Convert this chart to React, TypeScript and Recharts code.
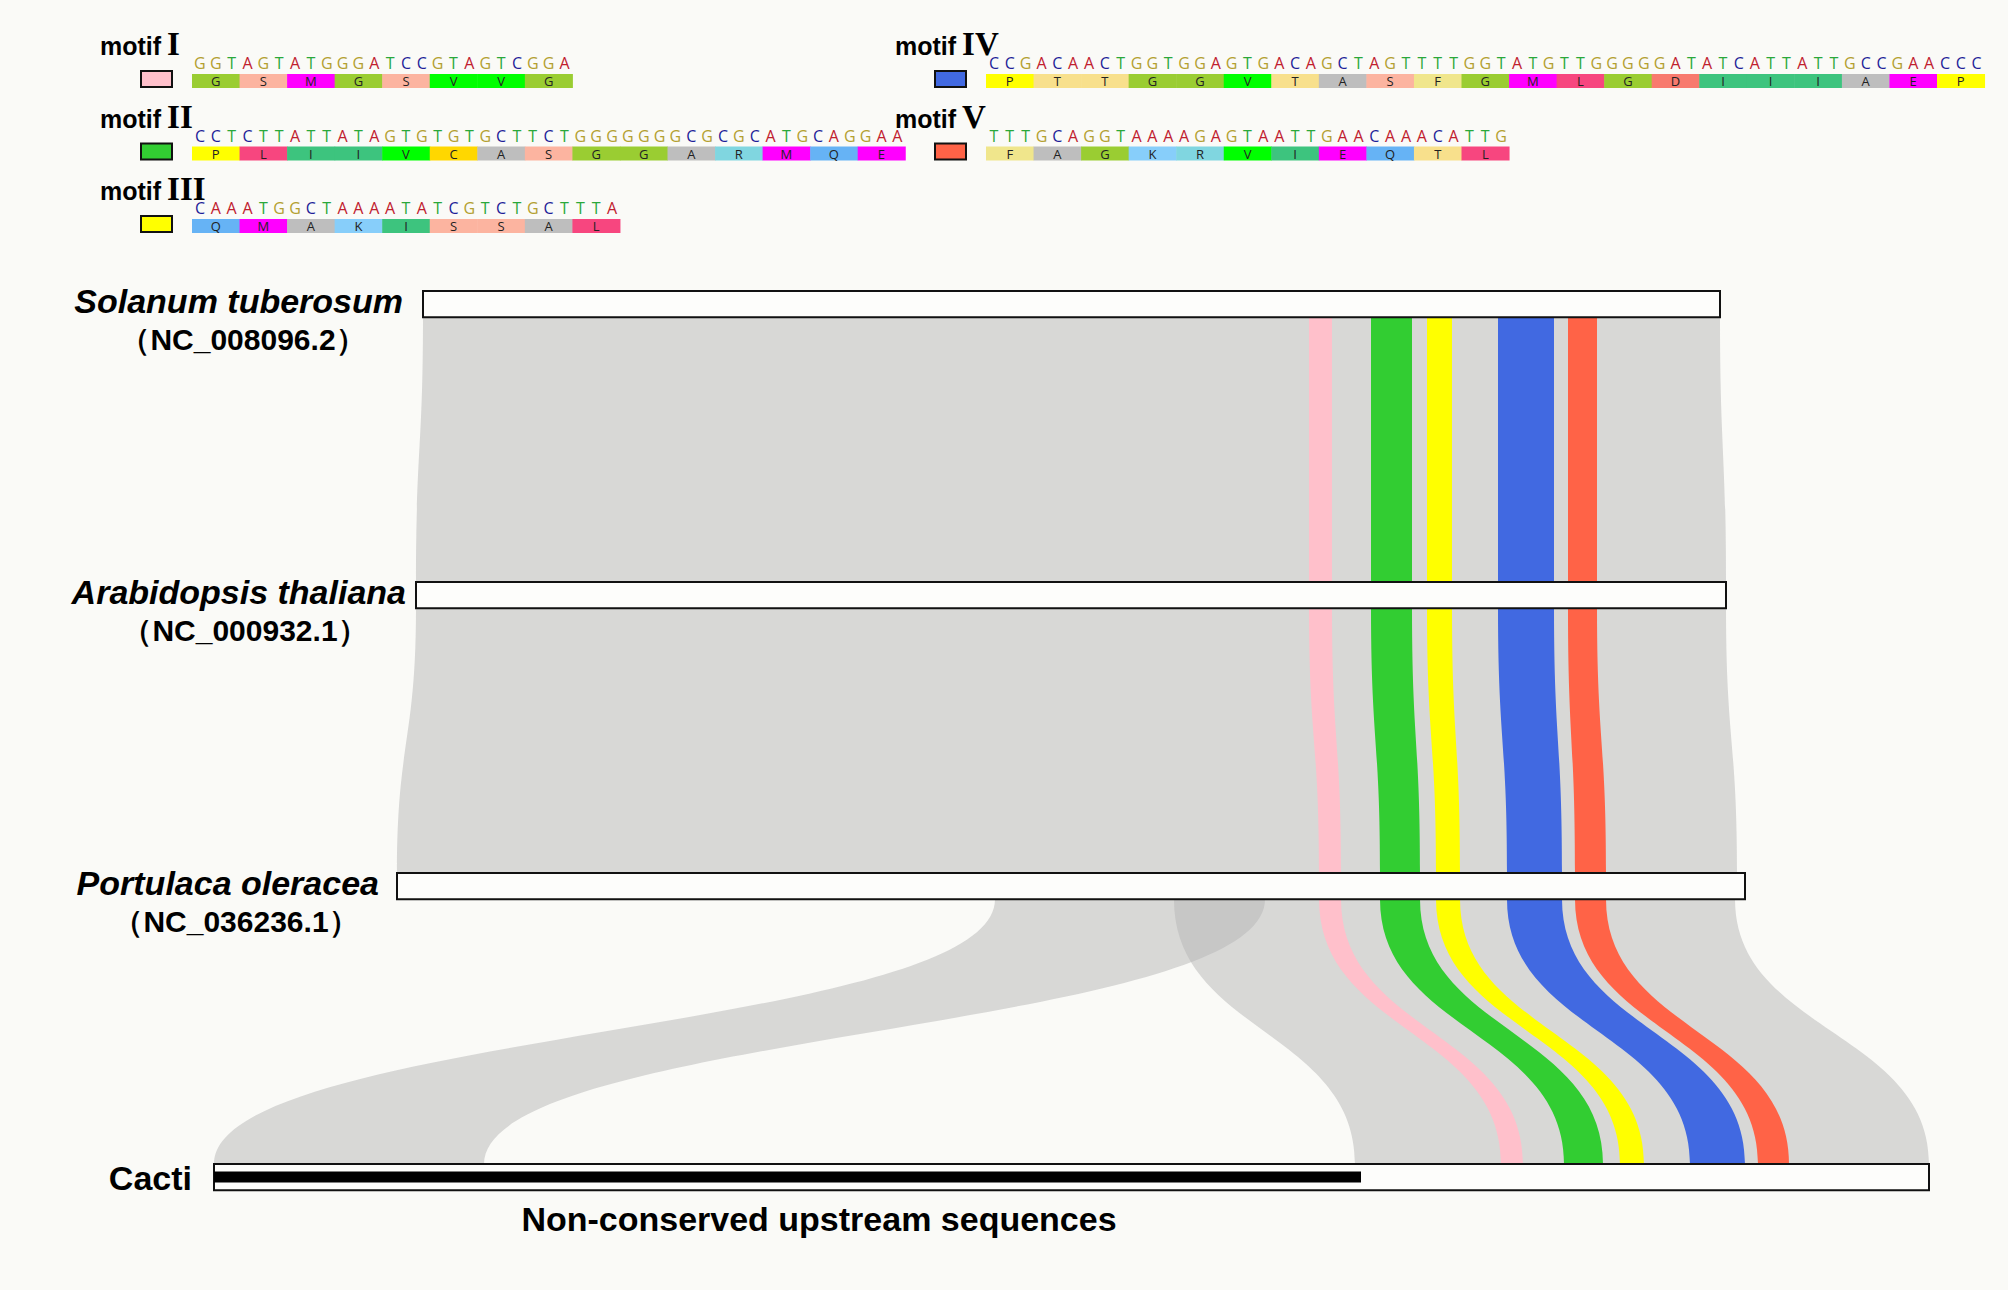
import { Area, ComposedChart, ReferenceArea, XAxis, YAxis } from "recharts";

const W = 2008;
const H = 1290;
const BG = "#fafaf7";
const SANS = "'Liberation Sans', Arial, sans-serif";

// ---- tracks (top to bottom) ----
const SPECIES = ["Solanum tuberosum", "Arabidopsis thaliana", "Portulaca oleracea", "Cacti"];
const ACCESSIONS = ["（NC_008096.2）", "（NC_000932.1）", "（NC_036236.1）", ""];
const TRACK_START = [423, 416, 397, 214];
const TRACK_END = [1720, 1726, 1745, 1929];
const TRACK_THICK = 0.09;
const NON_CONSERVED = [214, 1361];

// ---- motif blocks: span on each track ----
const MOTIF_COLORS = ["#ffc0cb", "#32cd32", "#ffff00", "#4169e1", "#ff6347"];
const MOTIF_SPANS = [
  [[1309, 1332], [1309, 1332], [1319, 1341], [1501, 1523]],
  [[1371, 1412], [1371, 1412], [1380, 1420], [1564, 1603]],
  [[1427, 1452], [1427, 1452], [1436, 1460], [1620, 1644]],
  [[1498, 1554], [1498, 1554], [1507, 1562], [1690, 1745]],
  [[1568, 1597], [1568, 1597], [1575, 1606], [1758, 1789]],
];

// ---- grey homology links: [fromTrack, fromSpan, toSpan] ----
const GREY_LINKS: [number, number[], number[]][] = [
  [0, [423, 1720], [416, 1726]],
  [1, [416, 1726], [397, 1737]],
  [2, [995, 1265], [214, 484]],
  [2, [1174, 1735], [1355, 1929]],
];

// ---- motif legend ----
const MOTIF_NUMERALS = ["I", "II", "III", "IV", "V"];
const MOTIF_NT = [
  "GGTAGTATGGGATCCGTAGTCGGA",
  "CCTCTTATTATAGTGTGTGCTTCTGGGGGGGCGCGCATGCAGGAA",
  "CAAATGGCTAAAATATCGTCTGCTTTA",
  "CCGACAACTGGTGGAGTGACAGCTAGTTTTGGTATGTTGGGGGATATCATTATTGCCGAACCC",
  "TTTGCAGGTAAAAGAGTAATTGAACAAACATTG",
];
const MOTIF_AA = ["GSMGSVVG", "PLIIVCASGGARMQE", "QMAKISSAL", "PTTGGVTASFGMLGDIIIAEP", "FAGKRVIEQTL"];

const NT_COLORS: Record<string, string> = { A: "#c0202e", C: "#1f1f99", G: "#b3a030", T: "#2aa83a" };
const AA_COLORS: Record<string, string> = {
  G: "#9acd32", S: "#fcb4a0", M: "#ff00ff", V: "#00ff00", P: "#ffff00", L: "#f7467f",
  I: "#3dc47e", C: "#ffd700", A: "#bebebe", R: "#80d6e0", Q: "#66b3f5", E: "#ff00ff",
  K: "#87cefa", T: "#f8e08c", F: "#f0e68c", D: "#f87a6e",
};

const NT_W = 15.85;
const trackPx = (i: number) => 291 + 291 * i;
// label placement next to each track
const NAME_GAP = [20, 10, 18];
const ACC_CENTER = [243, 245, 236];

function linkData(from: number, a: number[], b: number[]) {
  return [
    { y: from + TRACK_THICK, x: a },
    { y: from + 1, x: b },
  ];
}

function Overlay() {
  return (
    <svg width={W} height={H} style={{ position: "absolute", left: 0, top: 0, pointerEvents: "none" }}>
      {MOTIF_NUMERALS.map((num, m) => {
        const col = m < 3 ? 0 : 1;
        const row = m < 3 ? m : m - 3;
        const lx = col ? 895 : 100;
        const bx = col ? 935 : 141;
        const sx = col ? 986 : 192;
        const barTop = 74 + row * 72.5;
        return (
          <g key={num}>
            <text x={lx} y={barTop - 19} fontFamily={SANS} fontWeight="bold" fontSize={25} fill="#000">
              motif
              <tspan fontFamily="'Liberation Serif', 'Times New Roman', serif" fontSize={33} dx={6}>
                {num}
              </tspan>
            </text>
            <rect x={bx} y={barTop - 3} width={31} height={16} fill={MOTIF_COLORS[m]} stroke="#111" strokeWidth={2} />
            {MOTIF_NT[m].split("").map((c, i) => (
              <text
                key={i}
                x={sx + (i + 0.5) * NT_W}
                y={barTop - 5}
                textAnchor="middle"
                fontFamily="'Open Sans', sans-serif"
                fontSize={16}
                fill={NT_COLORS[c]}
              >
                {c}
              </text>
            ))}
            {MOTIF_AA[m].split("").map((a, i) => (
              <g key={i}>
                <rect x={sx + i * 3 * NT_W} y={barTop} width={3 * NT_W + 0.5} height={14} fill={AA_COLORS[a]} />
                <text
                  x={sx + (i + 0.5) * 3 * NT_W}
                  y={barTop + 12}
                  textAnchor="middle"
                  fontFamily="'Open Sans', sans-serif"
                  fontSize={13}
                  fill="#222"
                >
                  {a}
                </text>
              </g>
            ))}
          </g>
        );
      })}
      {SPECIES.slice(0, 3).map((name, i) => (
        <g key={name}>
          <text
            x={TRACK_START[i] - NAME_GAP[i]}
            y={trackPx(i) + 22}
            textAnchor="end"
            fontFamily={SANS}
            fontWeight="bold"
            fontStyle="italic"
            fontSize={34}
          >
            {name}
          </text>
          <text x={ACC_CENTER[i]} y={trackPx(i) + 59} textAnchor="middle" fontFamily={SANS} fontWeight="bold" fontSize={30}>
            {ACCESSIONS[i]}
          </text>
        </g>
      ))}
      <text x={TRACK_START[3] - 22} y={trackPx(3) + 26} textAnchor="end" fontFamily={SANS} fontWeight="bold" fontSize={34}>
        {SPECIES[3]}
      </text>
      <text x={819} y={1231} textAnchor="middle" fontFamily={SANS} fontWeight="bold" fontSize={34}>
        Non-conserved upstream sequences
      </text>
    </svg>
  );
}

export default function App() {
  return (
    <div style={{ position: "absolute", left: 0, top: 0, width: W, height: H, background: BG }}>
      <ComposedChart width={W} height={H} layout="vertical" margin={{ top: 0, right: 0, bottom: 0, left: 0 }}>
        <XAxis type="number" dataKey="x" domain={[0, W]} allowDataOverflow hide />
        <YAxis type="number" dataKey="y" domain={[-1, (H - 291) / 291]} allowDataOverflow hide />
        {GREY_LINKS.map(([from, a, b], k) => (
          <Area
            key={`g${k}`}
            data={linkData(from, a, b)}
            dataKey="x"
            type="bump"
            stroke="none"
            fill="#b5b5b5"
            fillOpacity={0.5}
            isAnimationActive={false}
            activeDot={false}
            dot={false}
          />
        ))}
        {MOTIF_SPANS.map((spans, m) =>
          [0, 1, 2].map((from) => (
            <Area
              key={`m${m}-${from}`}
              data={linkData(from, spans[from], spans[from + 1])}
              dataKey="x"
              type="bump"
              stroke="none"
              fill={MOTIF_COLORS[m]}
              fillOpacity={1}
              isAnimationActive={false}
              activeDot={false}
              dot={false}
            />
          ))
        )}
        {SPECIES.map((name, i) => (
          <ReferenceArea
            key={name}
            x1={TRACK_START[i]}
            x2={TRACK_END[i]}
            y1={i}
            y2={i + TRACK_THICK}
            fill="#fdfdfb"
            fillOpacity={1}
            stroke="#111"
            strokeWidth={2}
          />
        ))}
        <ReferenceArea
          x1={NON_CONSERVED[0]}
          x2={NON_CONSERVED[1]}
          y1={3 + 0.026}
          y2={3 + 0.064}
          fill="#000"
          fillOpacity={1}
          stroke="none"
        />
      </ComposedChart>
      <Overlay />
    </div>
  );
}
